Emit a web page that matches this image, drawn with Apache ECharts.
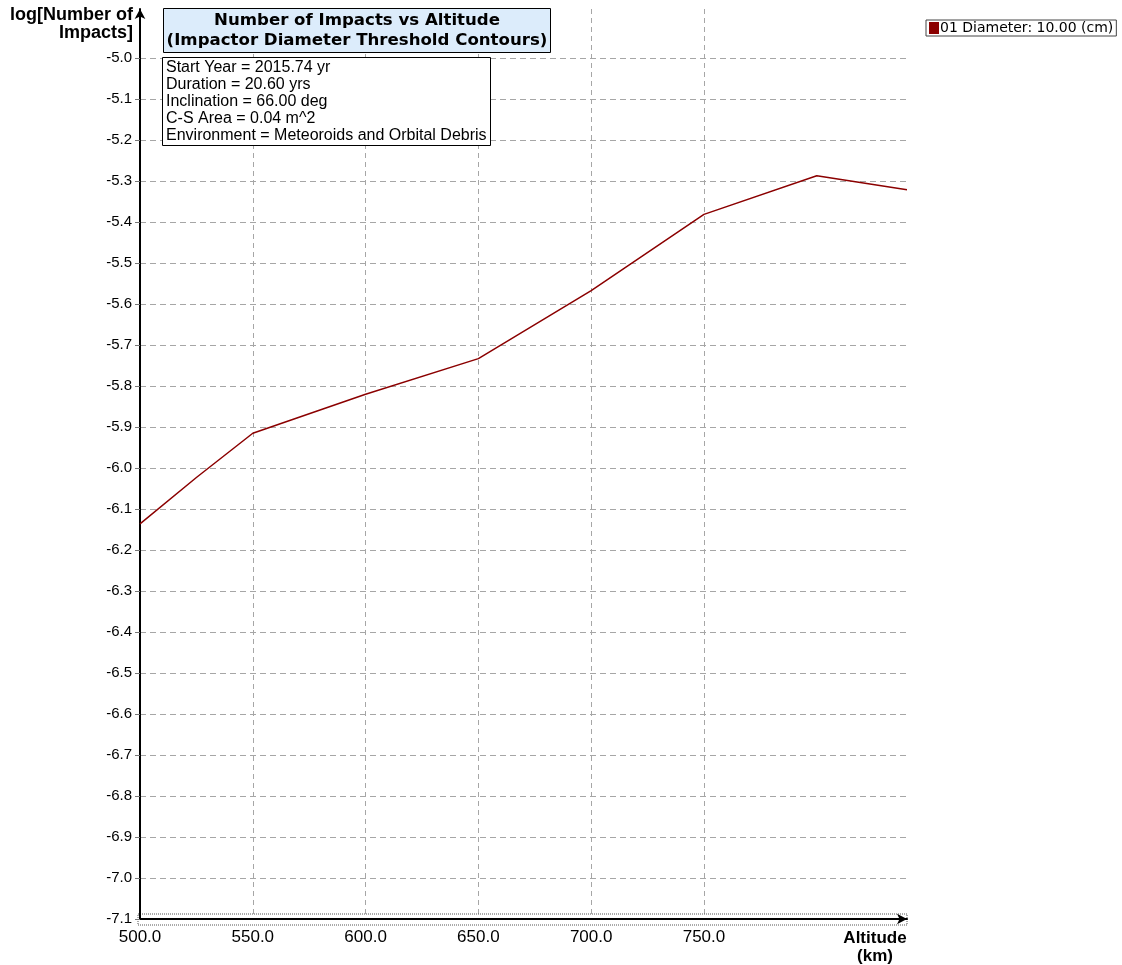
<!DOCTYPE html>
<html>
<head>
<meta charset="utf-8">
<title>Number of Impacts vs Altitude</title>
<script src="https://cdn.jsdelivr.net/npm/echarts@6/dist/echarts.min.js"></script>
<style>
  html, body { margin: 0; padding: 0; background: #fff; }
  #chart { width: 1122px; height: 965px; }
</style>
</head>
<body>
<div id="chart"></div>
<script>
// altitude (km) and log10 of number of impacts
const altitudes = [500, 525, 550, 600, 650, 700, 750, 800, 840]
const logImpacts = [-6.136, -6.023, -5.915, -5.820, -5.733, -5.567, -5.381, -5.287, -5.321]

const xTicks = [500, 550, 600, 650, 700, 750]
const yTicks = [-7.1, -7.0, -6.9, -6.8, -6.7, -6.6, -6.5, -6.4, -6.3, -6.2, -6.1,
  -6.0, -5.9, -5.8, -5.7, -5.6, -5.5, -5.4, -5.3, -5.2, -5.1, -5.0]

const seriesName = '01 Diameter: 10.00 (cm)'
const infoLines = [
  'Start Year = 2015.74 yr',
  'Duration = 20.60 yrs',
  'Inclination = 66.00 deg',
  'C-S Area = 0.04 m^2',
  'Environment = Meteoroids and Orbital Debris'
]

const font = "'Liberation Sans', Arial, sans-serif"
const wideFont = "'DejaVu Sans', sans-serif"
const lineColor = '#8b0000'

const chart = echarts.init(document.getElementById('chart'))

chart.setOption({
  animation: false,
  backgroundColor: '#fff',
  title: [
    {
      text: 'Number of Impacts vs Altitude\n(Impactor Diameter Threshold Contours)',
      left: 354,
      top: 8,
      textAlign: 'center',
      padding: [3, 3, 2, 3],
      backgroundColor: '#dcecfb',
      borderColor: '#000',
      borderWidth: 1,
      textStyle: { fontFamily: wideFont, fontSize: 16.6, fontWeight: 'bold', color: '#000', lineHeight: 20 }
    },
    {
      text: infoLines.join('\n'),
      left: 162,
      top: 57,
      padding: [2, 4, 2, 4],
      backgroundColor: '#fff',
      borderColor: '#000',
      borderWidth: 1,
      textStyle: { fontFamily: font, fontSize: 16, fontWeight: 'normal', color: '#000', lineHeight: 17 }
    }
  ],
  legend: {
    data: [seriesName],
    left: 926,
    top: 20,
    orient: 'vertical',
    icon: 'rect',
    itemWidth: 10,
    itemHeight: 12,
    itemGap: 3,
    padding: [1, 3, 1, 3],
    borderColor: '#444',
    borderWidth: 1,
    backgroundColor: '#fff',
    textStyle: { fontFamily: wideFont, fontSize: 14, color: '#000', padding: [0, 0, 0, -4] }
  },
  grid: { left: 140, right: 215, top: 9, bottom: 45, containLabel: false },
  xAxis: {
    type: 'value',
    min: 500,
    max: 840,
    name: 'Altitude\n(km)',
    nameLocation: 'end',
    nameGap: -32,
    nameTextStyle: {
      fontFamily: font, fontSize: 17, fontWeight: 'bold', color: '#000',
      align: 'center', verticalAlign: 'top', lineHeight: 18, padding: [10, 0, 0, 0]
    },
    axisLine: { show: true, lineStyle: { color: '#000', width: 2 }, symbol: ['none', 'arrow'], symbolSize: [8, 10] },
    axisTick: { show: false, customValues: xTicks },
    axisLabel: {
      customValues: xTicks,
      margin: 10,
      fontFamily: font, fontSize: 17, color: '#000',
      formatter: v => v.toFixed(1)
    },
    splitLine: { show: true, lineStyle: { color: '#a6a6a6', type: [5, 4], width: 1 } }
  },
  yAxis: {
    type: 'value',
    min: -7.1,
    max: -4.88,
    name: 'log[Number of\nImpacts]',
    nameLocation: 'end',
    nameGap: 3,
    nameTextStyle: {
      fontFamily: font, fontSize: 18, fontWeight: 'bold', color: '#000',
      align: 'right', verticalAlign: 'top', lineHeight: 18, padding: [0, 7, 0, 0]
    },
    axisLine: { show: true, lineStyle: { color: '#000', width: 2 }, symbol: ['none', 'arrow'], symbolSize: [8, 10] },
    axisTick: { show: true, customValues: yTicks, length: 5, lineStyle: { color: '#777' } },
    axisLabel: {
      customValues: yTicks,
      margin: 8,
      fontFamily: font, fontSize: 15, color: '#000',
      formatter: v => v.toFixed(1)
    },
    splitLine: { show: true, lineStyle: { color: '#a6a6a6', type: [6, 4], width: 1 } }
  },
  series: [
    {
      name: seriesName,
      type: 'line',
      data: altitudes.map((a, i) => [a, logImpacts[i]]),
      showSymbol: false,
      lineStyle: { color: lineColor, width: 1.5 },
      itemStyle: { color: lineColor }
    }
  ]
})

// dotted frame around the x axis line, like in the original program
const p0 = chart.convertToPixel({ gridIndex: 0 }, [500, -7.1])
const p1 = chart.convertToPixel({ gridIndex: 0 }, [840, -7.1])
chart.setOption({
  graphic: [
    {
      type: 'rect',
      shape: { x: p0[0] - 2, y: p0[1] - 5, width: p1[0] - p0[0] + 2, height: 11 },
      style: { fill: 'none', stroke: '#555', lineWidth: 1, lineDash: [1, 1] },
      silent: true
    }
  ]
})
</script>
</body>
</html>
